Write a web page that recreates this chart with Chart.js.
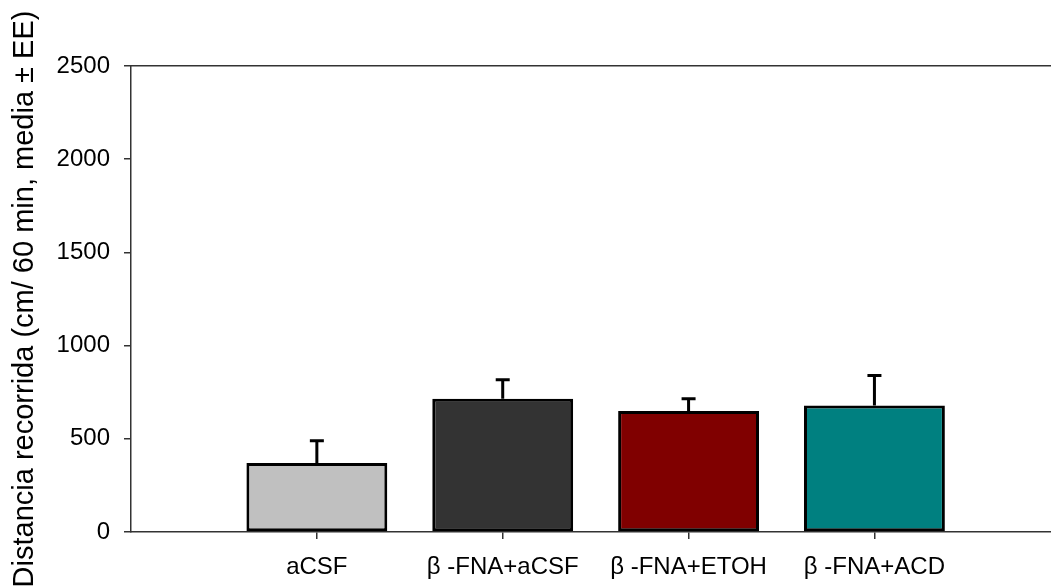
<!DOCTYPE html>
<html>
<head>
<meta charset="utf-8">
<script src="https://cdn.jsdelivr.net/npm/chart.js@4"></script>
<style>
  html, body { margin: 0; padding: 0; background: #fff; overflow: hidden; }
  #wrap { width: 1051px; height: 588px; }
</style>
</head>
<body>
<div id="wrap"><canvas id="c" width="1051" height="588"></canvas></div>
<script>
// Groups, means and standard errors (distance in cm over 60 min)
const groups = ['aCSF', 'β -FNA+aCSF', 'β -FNA+ETOH', 'β -FNA+ACD'];
const means = [370, 715, 649, 679];
const errors = [120, 102, 66, 161];
const fills = ['#C0C0C0', '#333333', '#800000', '#008080'];
const yTicks = [0, 500, 1000, 1500, 2000, 2500];
const slots = groups.map((g, i) => i + 1);

const FONT = "'Liberation Sans', Arial, sans-serif";
const AXIS = '#333333';

// Draws the upward half of each error bar with a small cap
const errorBars = {
  id: 'errorBars',
  afterDatasetsDraw(chart) {
    const ctx = chart.ctx;
    const meta = chart.getDatasetMeta(0);
    const ys = chart.scales.y;
    ctx.save();
    ctx.strokeStyle = '#000';
    ctx.lineWidth = 3;
    meta.data.forEach((bar, i) => {
      const x = bar.x;
      const y0 = ys.getPixelForValue(means[i]);
      const y1 = ys.getPixelForValue(means[i] + errors[i]);
      ctx.beginPath();
      ctx.moveTo(x, y0);
      ctx.lineTo(x, y1);
      ctx.moveTo(x - 7, y1);
      ctx.lineTo(x + 7, y1);
      ctx.stroke();
    });
    ctx.restore();
  }
};

new Chart(document.getElementById('c'), {
  type: 'bar',
  data: {
    datasets: [{
      data: slots.map((s, i) => ({ x: s, y: means[i] })),
      backgroundColor: fills,
      borderColor: '#000',
      borderWidth: 3,
      borderSkipped: false,
      barPercentage: 0.758,
      categoryPercentage: 1
    }]
  },
  options: {
    responsive: false,
    animation: false,
    devicePixelRatio: 1,
    layout: { padding: { top: 66, left: 0, right: 0, bottom: 0 } },
    plugins: { legend: { display: false }, tooltip: { enabled: false } },
    scales: {
      x: {
        type: 'linear',
        position: 'bottom',
        offset: false,
        min: 0,
        max: 4.95,
        afterBuildTicks: s => { s.ticks = slots.map(v => ({ value: v })); },
        afterFit: s => { s.height = 56; },
        ticks: {
          callback: v => groups[v - 1],
          font: { family: FONT, size: 24 },
          color: '#000',
          padding: 14,
          maxRotation: 0,
          minRotation: 0,
          autoSkip: false
        },
        grid: { display: true, offset: false, drawOnChartArea: false, drawTicks: true, tickLength: 7, color: AXIS, lineWidth: 1.5 },
        border: { display: true, color: AXIS, width: 1.5 }
      },
      xTop: {
        type: 'linear',
        position: 'top',
        offset: false,
        min: 0,
        max: 4.95,
        ticks: { display: false },
        grid: { display: false },
        border: { display: true, color: AXIS, width: 1.5 },
        afterFit: s => { s.height = 0; }
      },
      y: {
        min: 0,
        max: 2500,
        afterBuildTicks: s => { s.ticks = yTicks.map(v => ({ value: v })); },
        afterFit: s => { s.width = 131; },
        ticks: {
          callback: v => String(v),
          font: { family: FONT, size: 24 },
          color: '#000',
          padding: 14
        },
        grid: { display: true, drawOnChartArea: false, drawTicks: true, tickLength: 7, color: AXIS, lineWidth: 1.5 },
        border: { display: true, color: AXIS, width: 1.5 },
        title: {
          display: true,
          text: 'Distancia recorrida (cm/ 60 min, media ± EE)',
          font: { family: FONT, size: 29 },
          color: '#000',
          padding: { top: 8, bottom: 0 }
        }
      }
    }
  },
  plugins: [errorBars]
});
</script>
</body>
</html>
